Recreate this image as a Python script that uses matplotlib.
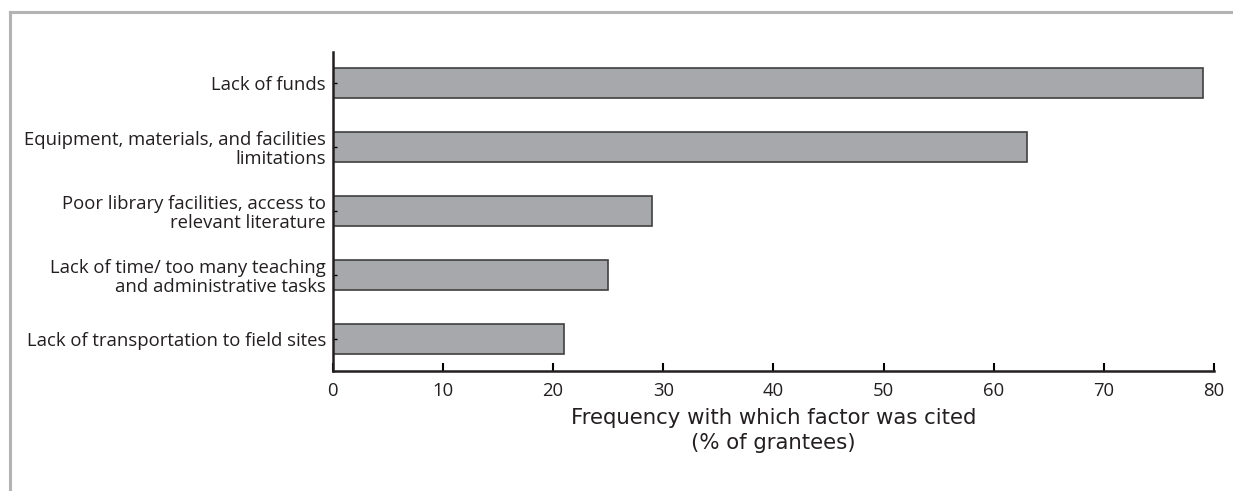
import matplotlib.pyplot as plt
from matplotlib.lines import Line2D

factors = [
    "Lack of funds",
    "Equipment, materials, and facilities\nlimitations",
    "Poor library facilities, access to\nrelevant literature",
    "Lack of time/ too many teaching\nand administrative tasks",
    "Lack of transportation to field sites",
]
percent = [79, 63, 29, 25, 21]
xticks = [0, 10, 20, 30, 40, 50, 60, 70, 80]

plt.rcParams['font.family'] = ['Open Sans', 'DejaVu Sans']

fig = plt.figure(figsize=(12.33, 4.91), dpi=100)
ax = fig.add_axes([0.270, 0.2444, 0.7146, 0.6496])

pos = list(range(len(factors)))
ax.barh(pos, percent, height=0.47, color="#a7a8ab", edgecolor="#404040", linewidth=1.2)

ax.set_ylim(4.5, -0.48)
ax.set_xlim(0, 80)
ax.set_yticks(pos)
ax.set_yticklabels(factors, fontsize=13.3, color="#231f20", linespacing=1.08)
ax.set_xticks(xticks)
ax.set_xticklabels([str(t) for t in xticks], fontsize=13.3, color="#231f20")
ax.tick_params(axis="x", direction="in", length=6, width=1.5, pad=8)
ax.tick_params(axis="y", direction="in", length=3, width=1, pad=5)
ax.set_xlabel("Frequency with which factor was cited\n(% of grantees)", fontsize=15.3,
              family="DejaVu Sans", color="#231f20", linespacing=1.3, labelpad=6)

for s in ["top", "right"]:
    ax.spines[s].set_visible(False)
for s in ["left", "bottom"]:
    ax.spines[s].set_linewidth(1.8)
    ax.spines[s].set_color("#231f20")

# grey frame around the figure (top and left)
fig.add_artist(Line2D([0.0081, 1.0], [0.9756, 0.9756], color="#b3b3b3", linewidth=2.2))
fig.add_artist(Line2D([0.0081, 0.0081], [0.0, 0.9756], color="#b3b3b3", linewidth=2.2))

fig.savefig("out.png", dpi=100)
